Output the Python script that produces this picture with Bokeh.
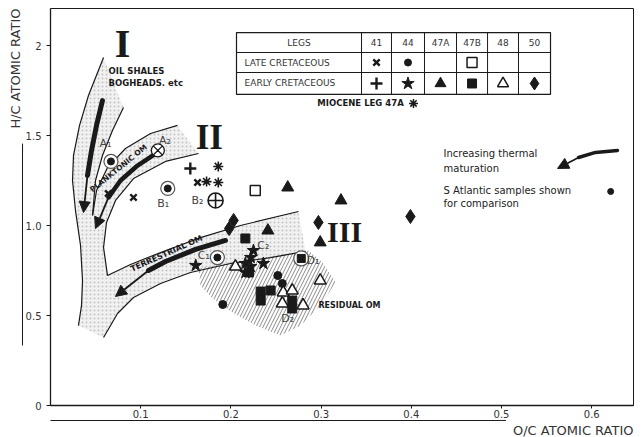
from bokeh.plotting import figure
from bokeh.models import (Range1d, FixedTicker, Arrow, NormalHead, PrintfTickFormatter,
                          Title, LinearAxis)
from bokeh.core.properties import value
from bokeh.embed import file_html
from bokeh.resources import INLINE

# ---------------- data (O/C atomic ratio, H/C atomic ratio) ----------------
late_41_x = [0.064, 0.092, 0.163]
late_41_y = [1.178, 1.156, 1.239]
early_41_x = [0.155]
early_41_y = [1.317]
miocene_47a_x = [0.186, 0.186, 0.173]
miocene_47a_y = [1.328, 1.239, 1.244]
late_44_x = [0.191, 0.252, 0.257]
late_44_y = [0.561, 0.722, 0.678]
early_44_x = [0.161, 0.225, 0.222, 0.236, 0.216, 0.216, 0.222]
early_44_y = [0.778, 0.861, 0.822, 0.789, 0.789, 0.739, 0.772]
early_47a_x = [0.263, 0.322, 0.241, 0.299]
early_47a_y = [1.211, 1.139, 0.972, 0.906]
late_47b_x = [0.227]
late_47b_y = [1.194]
early_47b_x = [0.216, 0.233, 0.233, 0.244, 0.268, 0.268, 0.220]
early_47b_y = [0.928, 0.633, 0.583, 0.639, 0.583, 0.539, 0.739]
early_48_x = [0.205, 0.258, 0.268, 0.257, 0.280, 0.299]
early_48_y = [0.772, 0.628, 0.639, 0.567, 0.556, 0.694]
early_50_x = [0.203, 0.198, 0.297, 0.399]
early_50_y = [1.028, 0.983, 1.017, 1.050]
s_atlantic_x = [0.621]
s_atlantic_y = [1.189]

# reference points A1..D2
ref_dot_x = [0.067, 0.130, 0.185]      # A1, B1, C1
ref_dot_y = [1.356, 1.206, 0.822]
ref_x_x = [0.119]                      # A2
ref_x_y = [1.417]
ref_plus_x = [0.183]                   # B2
ref_plus_y = [1.139]
ref_sq_x = [0.278]                     # D1
ref_sq_y = [0.817]
ref_names = ["A₁", "A₂", "B₁", "B₂", "C₁", "C₂", "D₁", "D₂"]
ref_name_x = [0.061, 0.127, 0.125, 0.163, 0.170, 0.236, 0.291, 0.263]
ref_name_y = [1.456, 1.472, 1.122, 1.139, 0.835, 0.889, 0.806, 0.483]

# evolution paths (band boundaries)
outer_x = [0.0588, 0.0421, 0.0322, 0.0255, 0.0244, 0.0277, 0.0333, 0.0355, 0.0344, 0.0310]
outer_y = [1.933, 1.722, 1.556, 1.389, 1.250, 1.083, 0.889, 0.694, 0.556, 0.444]
band1_in_x = [0.0809, 0.0687, 0.0576, 0.0499, 0.0466]
band1_in_y = [1.656, 1.528, 1.389, 1.250, 1.056]
band2_up_x = [0.1408, 0.1109, 0.0831, 0.0632, 0.0510, 0.0466]
band2_up_y = [1.556, 1.511, 1.428, 1.322, 1.194, 1.056]
band2_lo_x = [0.1641, 0.1275, 0.0920, 0.0721, 0.0621, 0.0588, 0.0632]
band2_lo_y = [1.400, 1.356, 1.261, 1.139, 1.017, 0.878, 0.722]
terr_up_x = [0.0632, 0.0887, 0.1220, 0.1663, 0.2106, 0.2749]
terr_up_y = [0.722, 0.783, 0.850, 0.933, 1.000, 1.078]
terr_lo_x = [0.0588, 0.0743, 0.0920, 0.1220, 0.1552, 0.1996, 0.2439, 0.2827]
terr_lo_y = [0.378, 0.511, 0.600, 0.678, 0.739, 0.789, 0.822, 0.856]
resid_x = [0.1641, 0.1996, 0.2439, 0.2860, 0.3016, 0.3160, 0.2993, 0.2772, 0.2550, 0.2273, 0.2018, 0.1796, 0.1663]
resid_y = [0.761, 0.794, 0.828, 0.861, 0.794, 0.683, 0.556, 0.444, 0.389, 0.444, 0.517, 0.594, 0.667]

# maturation arrows (thick part, then arrow to tip)
arr1_x = [0.0576, 0.0510, 0.0455, 0.0410]
arr1_y = [1.694, 1.556, 1.417, 1.278]
arr1_tip = (0.0366, 1.072)
arr2_x = [0.1186, 0.0965, 0.0776, 0.0643]
arr2_y = [1.406, 1.333, 1.250, 1.156]
arr2_tip = (0.0499, 0.983)
arr3_x = [0.1940, 0.1608, 0.1275, 0.1086]
arr3_y = [0.917, 0.867, 0.800, 0.750]
arr3_tip = (0.0721, 0.606)
arr4_x = [0.6286, 0.6042, 0.5854]
arr4_y = [1.417, 1.406, 1.378]
arr4_tip = (0.5621, 1.317)

# legend table
legs = ["41", "44", "47A", "47B", "48", "50"]
table_x_edges = [0.2062, 0.3448, 0.3780, 0.4146, 0.4501, 0.4845, 0.5188, 0.5543]
table_y_edges = [2.072, 1.961, 1.850, 1.728]

x_ticks = [0.1, 0.2, 0.3, 0.4, 0.5, 0.6]
y_ticks = [0, 0.5, 1.0, 1.5, 2.0]
y_arrow_span = (0.333, 1.43)
x_arrow_span = (0.0, 0.497)
y_arrow_head = (-0.031, 1.40, 1.455)     # x, from y, tip y
x_arrow_head = (-0.083, 0.48, 0.505)     # y, from x, tip x

FONT = value("DejaVu Sans")
INK = "#1a1a1a"

p = figure(width=642, height=437, output_backend="svg", toolbar_location=None,
           x_range=Range1d(0, 0.6463), y_range=Range1d(0, 2.2056),
           min_border_left=50, min_border_right=9, min_border_top=8, min_border_bottom=32)
p.xgrid.visible = False
p.ygrid.visible = False
p.outline_line_color = INK
p.outline_line_width = 1
for ax in (p.xaxis[0], p.yaxis[0]):
    ax.axis_line_color = INK
    ax.axis_line_width = 1.3
    ax.major_tick_line_color = INK
    ax.major_tick_out = 4
    ax.major_tick_in = 0
    ax.minor_tick_line_color = None
    ax.major_label_text_font = "DejaVu Sans"
    ax.major_label_text_font_size = "10px"
    ax.major_label_text_color = "#333333"
p.xaxis.major_tick_out = 3
p.xaxis.major_label_standoff = 1
p.xaxis.ticker = FixedTicker(ticks=x_ticks)
p.xaxis.formatter = PrintfTickFormatter(format="%.1f")
p.yaxis.ticker = FixedTicker(ticks=y_ticks)
p.yaxis.formatter = PrintfTickFormatter(format="%.1f")
p.yaxis.major_label_overrides = {0: "0", 2: "2"}

# shaded evolution bands
poly_x = (outer_x + terr_lo_x + terr_up_x[::-1] + band2_lo_x[::-1][1:] + band2_up_x + band1_in_x[::-1][1:])
poly_y = (outer_y + terr_lo_y + terr_up_y[::-1] + band2_lo_y[::-1][1:] + band2_up_y + band1_in_y[::-1][1:])
p.patch(poly_x, poly_y, fill_color="#f1f1f1", line_alpha=0,
        hatch_pattern=".", hatch_color="#c4c4c4", hatch_scale=4, hatch_weight=1)

# residual OM hatched zone
p.patch(resid_x, resid_y, fill_alpha=0, line_alpha=0,
        hatch_pattern="/", hatch_color="#8a8a8a", hatch_scale=7, hatch_weight=1)

for xs, ys in [(outer_x, outer_y), (band1_in_x, band1_in_y), (band2_up_x, band2_up_y),
               (band2_lo_x, band2_lo_y), (terr_up_x, terr_up_y), (terr_lo_x, terr_lo_y)]:
    p.line(xs, ys, line_color=INK, line_width=1.2)

for xs, ys, tip, w in [(arr1_x, arr1_y, arr1_tip, 5), (arr2_x, arr2_y, arr2_tip, 4.5),
                       (arr3_x, arr3_y, arr3_tip, 5), (arr4_x, arr4_y, arr4_tip, 3.5)]:
    p.line(xs, ys, line_color=INK, line_width=w, line_cap="round")
    p.add_layout(Arrow(end=NormalHead(size=11, fill_color=INK, line_color=INK),
                       x_start=xs[-1], y_start=ys[-1], x_end=tip[0], y_end=tip[1],
                       line_color=INK, line_width=1.8))

# reference points
p.scatter(ref_dot_x, ref_dot_y, marker="circle", size=14, fill_color="white", line_color="#555555", line_width=1.2)
p.scatter(ref_dot_x, ref_dot_y, marker="circle", size=7, fill_color=INK, line_color=INK)
p.scatter(ref_x_x, ref_x_y, marker="circle_x", size=13, fill_color="white", line_color=INK, line_width=1.3)
p.scatter(ref_plus_x, ref_plus_y, marker="circle_cross", size=15, fill_color="white", line_color=INK, line_width=1.6)
p.scatter(ref_sq_x, ref_sq_y, marker="circle", size=15, fill_color="white", line_color="#555555", line_width=1.2)
p.scatter(ref_sq_x, ref_sq_y, marker="square", size=8, fill_color=INK, line_color=INK)

# samples
p.scatter(late_41_x, late_41_y, marker="x", size=9, line_color=INK, line_width=2.4)
p.scatter(early_41_x, early_41_y, marker="cross", size=12, line_color=INK, line_width=2.4)
p.scatter(miocene_47a_x, miocene_47a_y, marker="asterisk", size=10, line_color=INK, line_width=1.6)
p.scatter(late_44_x, late_44_y, marker="circle", size=8, fill_color=INK, line_color=INK)
p.scatter(early_44_x, early_44_y, marker="star", size=13, fill_color=INK, line_color=INK)
p.scatter(early_47a_x, early_47a_y, marker="triangle", size=12, fill_color=INK, line_color=INK)
p.scatter(late_47b_x, late_47b_y, marker="square", size=10, fill_color="white", line_color=INK, line_width=1.5)
p.scatter(early_47b_x, early_47b_y, marker="square", size=9, fill_color=INK, line_color=INK)
p.scatter(early_48_x, early_48_y, marker="triangle", size=12, fill_color="white", line_color=INK, line_width=1.5)
p.scatter(early_50_x, early_50_y, marker="diamond", size=14, fill_color=INK, line_color=INK)
p.scatter(s_atlantic_x, s_atlantic_y, marker="circle", size=6, fill_color=INK, line_color=INK)

p.text(ref_name_x, ref_name_y, text=ref_names, text_font=FONT, text_font_size="11px",
       text_color="#444444", text_align="center", text_baseline="middle")

# type labels
p.text([0.0798], [2.011], text=["I"], text_font=value("Liberation Serif"), text_font_style="bold",
       text_font_size="40px", text_color=INK, text_align="center", text_baseline="middle")
p.text([0.176], [1.489], text=["II"], text_font=value("Liberation Serif"), text_font_style="bold",
       text_font_size="35px", text_color=INK, text_align="center", text_baseline="middle")
p.text([0.326], [0.967], text=["III"], text_font=value("Liberation Serif"), text_font_style="bold",
       text_font_size="30px", text_color=INK, text_align="center", text_baseline="middle")
p.text([0.0643, 0.0643], [1.861, 1.794], text=["OIL SHALES", "BOGHEADS. etc"], text_font=FONT,
       text_font_style="bold", text_font_size="8.5px", text_color=INK, text_baseline="middle")
p.text([0.0754], [1.317], text=["PLANKTONIC OM"], angle=0.68, text_font=FONT, text_font_style="bold",
       text_font_size="7.5px", text_color=INK, text_align="center", text_baseline="middle")
p.text([0.1286], [0.844], text=["TERRESTRIAL OM"], angle=0.42, text_font=FONT, text_font_style="bold",
       text_font_size="8px", text_color=INK, text_align="center", text_baseline="middle")
p.text([0.297], [0.556], text=["RESIDUAL OM"], text_font=FONT, text_font_style="bold",
       text_font_size="8px", text_color=INK, text_baseline="middle")
p.text([0.4357] * 4, [1.400, 1.317, 1.194, 1.122],
       text=["Increasing thermal", "maturation", "S Atlantic samples shown", "for comparison"],
       text_font=FONT, text_font_size="10px", text_color="#222222", text_baseline="middle")

# legend table
x0, x1 = table_x_edges[0], table_x_edges[-1]
y0, y1 = table_y_edges[-1], table_y_edges[0]
p.quad(left=x0, right=x1, bottom=y0, top=y1, fill_color="white", line_color=INK, line_width=1.2)
p.multi_line([[x0, x1]] * 2, [[yy, yy] for yy in table_y_edges[1:3]], line_color=INK, line_width=1)
p.multi_line([[xx, xx] for xx in table_x_edges[1:-1]], [[y0, y1]] * (len(table_x_edges) - 2),
             line_color=INK, line_width=1)
col_c = [(table_x_edges[i] + table_x_edges[i + 1]) / 2 for i in range(len(table_x_edges) - 1)]
row_c = [(table_y_edges[i] + table_y_edges[i + 1]) / 2 for i in range(len(table_y_edges) - 1)]
p.text(col_c, [row_c[0]] * 7, text=["LEGS"] + legs, text_font=FONT,
       text_font_size="9px", text_color="#333333", text_align="center", text_baseline="middle")
p.text([x0 + 0.009] * 2, row_c[1:], text=["LATE CRETACEOUS", "EARLY CRETACEOUS"], text_font=FONT,
       text_font_size="9px", text_color="#333333", text_baseline="middle")
r1, r2 = row_c[1], row_c[2]
p.scatter([col_c[1]], [r1], marker="x", size=9, line_color=INK, line_width=2.4)
p.scatter([col_c[2]], [r1], marker="circle", size=7, fill_color=INK, line_color=INK)
p.scatter([col_c[4]], [r1], marker="square", size=10, fill_color="white", line_color=INK, line_width=1.5)
p.scatter([col_c[1]], [r2], marker="cross", size=12, line_color=INK, line_width=2.4)
p.scatter([col_c[2]], [r2], marker="star", size=13, fill_color=INK, line_color=INK)
p.scatter([col_c[3]], [r2], marker="triangle", size=11, fill_color=INK, line_color=INK)
p.scatter([col_c[4]], [r2], marker="square", size=9, fill_color=INK, line_color=INK)
p.scatter([col_c[5]], [r2], marker="triangle", size=11, fill_color="white", line_color=INK, line_width=1.5)
p.scatter([col_c[6]], [r2], marker="diamond", size=13, fill_color=INK, line_color=INK)
p.text([0.3437], [1.678], text=["MIOCENE LEG 47A"], text_font=FONT, text_font_style="bold",
       text_font_size="8.5px", text_color=INK, text_align="center", text_baseline="middle")
p.scatter([0.4024], [1.678], marker="asterisk", size=9, line_color=INK, line_width=1.5)

# axis titles: arrow lines drawn as bounded extra axes, texts as titles
def arrow_axis(span):
    return LinearAxis(bounds=span, ticker=FixedTicker(ticks=[]),
                      major_label_text_font_size="0px", major_tick_line_color=None,
                      minor_tick_line_color=None, axis_line_color=INK, axis_line_width=1)

p.add_layout(arrow_axis(y_arrow_span), "left")
p.add_layout(Title(text="H/C ATOMIC RATIO", align="right", text_font="DejaVu Sans",
                   text_font_size="13px", text_font_style="normal", text_color="#333333",
                   standoff=0), "left")
p.add_layout(arrow_axis(x_arrow_span), "below")
p.add_layout(Title(text="O/C ATOMIC RATIO", align="right", text_font="DejaVu Sans",
                   text_font_size="13px", text_font_style="normal", text_color="#333333",
                   standoff=0), "below")
p.add_layout(Arrow(end=NormalHead(size=8, fill_color=INK, line_color=INK), line_color=INK,
                   line_width=1, x_start=y_arrow_head[0], y_start=y_arrow_head[1],
                   x_end=y_arrow_head[0], y_end=y_arrow_head[2], level="overlay"))
p.add_layout(Arrow(end=NormalHead(size=8, fill_color=INK, line_color=INK), line_color=INK,
                   line_width=1, x_start=x_arrow_head[1], y_start=x_arrow_head[0],
                   x_end=x_arrow_head[2], y_end=x_arrow_head[0], level="overlay"))

open("out.html", "w").write(file_html(p, INLINE))
